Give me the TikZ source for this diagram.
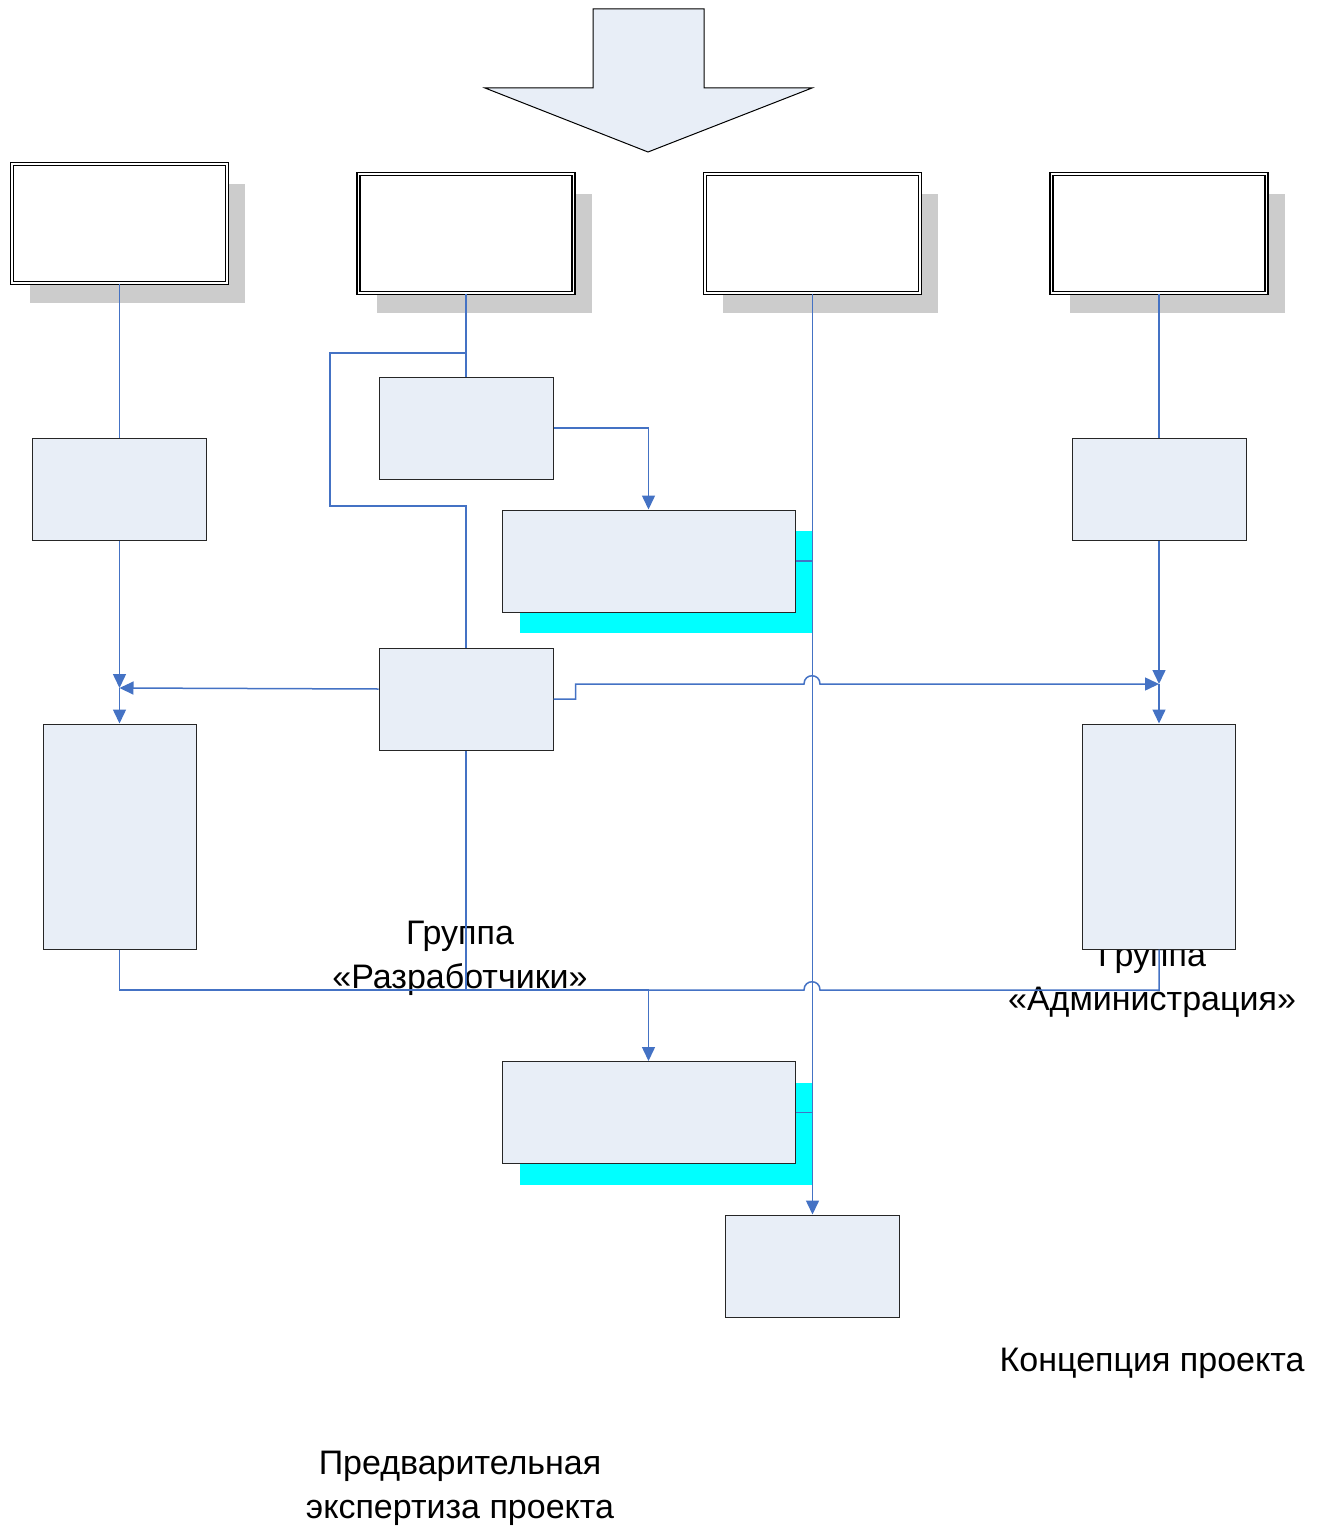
\documentclass[tikz,border=0pt]{standalone}
\usepackage{fontspec}
\setmainfont{Liberation Sans}
\usetikzlibrary{arrows.meta,shadows}
\definecolor{boxfill}{RGB}{232,238,247}
\definecolor{wireblue}{RGB}{68,114,196}
\definecolor{shadegray}{RGB}{204,204,204}
\definecolor{shadecyan}{RGB}{0,255,255}
\begin{document}
\begin{tikzpicture}[x=1pt, y=-1pt,
    topbox/.style={draw, line width=1.2pt, double, double distance=1.8pt, fill=white, inner sep=0pt,
      minimum width=215pt, minimum height=119pt,
      drop shadow={shadow xshift=18pt, shadow yshift=-20pt, fill=shadegray, opacity=1}},
    lightbox/.style={draw=black!85, line width=1pt, fill=boxfill, inner sep=0pt,
      minimum width=174pt, minimum height=102pt},
    tallbox/.style={lightbox, minimum width=153pt, minimum height=225pt},
    widebox/.style={lightbox, minimum width=293pt, minimum height=102pt,
      drop shadow={shadow xshift=18pt, shadow yshift=-21pt, fill=shadecyan, opacity=1}},
    wire/.style={draw=wireblue, line width=1.5pt},
    arr/.style={-{Triangle[width=13pt,length=14pt]}},
    lbl/.style={font=\fontsize{34}{44}\selectfont, align=center}]
    \useasboundingbox (0,0) rectangle (1323,1530);
    \draw[line width=1pt, fill=boxfill] (593,9) -- (704,9) -- (704,88) -- (812,88) -- (648,152)
      -- (485,88) -- (593,88) -- cycle;
    \node[lbl] (devs) at (460,958) {Группа\\«Разработчики»};
    \node[lbl] (admins) at (1152,980) {Группа\\«Администрация»};
    \node[lbl] (concept) at (1152,1363) {Концепция проекта};
    \node[lbl] (expert) at (460,1488) {Предварительная\\экспертиза проекта};
    \node[topbox] (top1) at (119.5,223.5) {};
    \node[topbox] (top2) at (466,233.5) {};
    \node[topbox] (top3) at (812.5,233.5) {};
    \node[topbox] (top4) at (1159,233.5) {};
    \node[lightbox] (boxL1) at (119.5,489.5) {};
    \node[lightbox] (boxM1) at (466,428) {};
    \node[widebox] (wide1) at (648.5,561) {};
    \node[lightbox] (boxR1) at (1159,489.5) {};
    \node[lightbox] (boxM2) at (466,699) {};
    \node[tallbox] (tallL) at (119.5,836.5) {};
    \node[tallbox] (tallR) at (1159,836.5) {};
    \node[widebox] (wide2) at (648.5,1112.5) {};
    \node[lightbox] (boxB) at (812.5,1266) {};
    \coordinate (jL) at (119.5,688);
    \coordinate (jR) at (1159,684);
    \coordinate (jB) at (648.5,990);
    \coordinate (split) at (466,353);
    \draw[wire] (top1) -- (boxL1);
    \draw[wire, arr] (boxL1) -- (jL);
    \draw[wire, arr] (jL) -- (tallL);
    \draw[wire, arr] ([yshift=10pt]boxM2.west) -- (jL);
    \draw[wire] (top2) -- (boxM1);
    \draw[wire] (split) -| (330,506) -| (boxM2);
    \draw[wire, arr] (boxM1) -| (wide1);
    \draw[wire, arr] (top3) -- (boxB);
    \draw[wire] (wide1) -- (wide1 -| top3);
    \draw[wire] (wide2) -- (wide2 -| top3);
    \draw[wire] (top4) -- (boxR1);
    \draw[wire, arr] (boxR1) -- (jR);
    \draw[wire, arr] (jR) -- (tallR);
    \draw[wire, arr] (boxM2.east) -- ++(22,0) -- ++(0,-15) -- (804,684)
      .. controls (804,673) and (820,673) .. (820,684) -- (jR);
    \draw[wire] (tallL) |- (jB);
    \draw[wire] (tallR) |- (820,990) .. controls (820,979) and (804,979) .. (804,990) -- (jB);
    \draw[wire] (boxM2) -- (boxM2 |- jB);
    \draw[wire, arr] (jB) -- (wide2);
\end{tikzpicture}
\end{document}
